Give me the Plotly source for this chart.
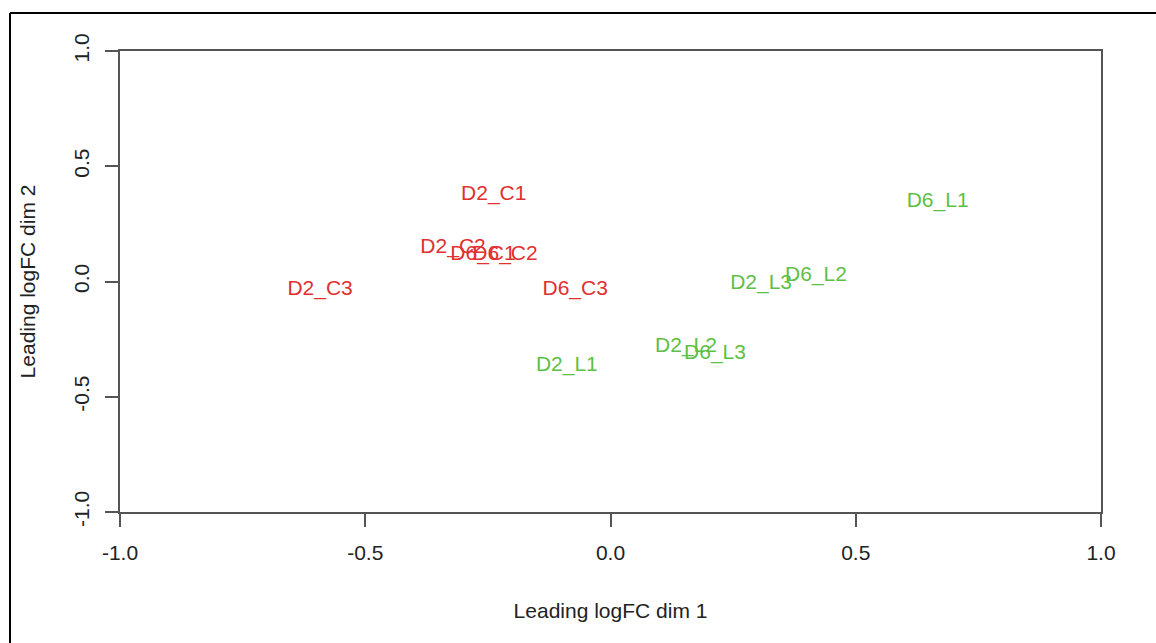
import plotly.graph_objects as go

# Sample labels and MDS coordinates (leading logFC dim 1 / dim 2)
control_labels = ["D2_C1", "D2_C2", "D6_C1", "D6_C2", "D2_C3", "D6_C3"]
control_x = [-0.238, -0.321, -0.260, -0.215, -0.592, -0.072]
control_y = [0.375, 0.145, 0.115, 0.115, -0.037, -0.037]

treated_labels = ["D2_L1", "D2_L2", "D6_L3", "D2_L3", "D6_L2", "D6_L1"]
treated_x = [-0.089, 0.154, 0.213, 0.307, 0.419, 0.667]
treated_y = [-0.367, -0.284, -0.315, -0.011, 0.024, 0.345]

tick_vals = [-1.0, -0.5, 0.0, 0.5, 1.0]
tick_text = ["-1.0", "-0.5", "0.0", "0.5", "1.0"]

RED = "#E0302F"
GREEN = "#5EBF45"
FONT = "Liberation Sans, Arial, sans-serif"

fig = go.Figure()
fig.add_trace(go.Scatter(
    x=control_x, y=control_y, text=control_labels, mode="text",
    textposition="middle center", textfont=dict(color=RED, size=21, family=FONT),
    cliponaxis=False, showlegend=False, hoverinfo="text"))
fig.add_trace(go.Scatter(
    x=treated_x, y=treated_y, text=treated_labels, mode="text",
    textposition="middle center", textfont=dict(color=GREEN, size=21, family=FONT),
    cliponaxis=False, showlegend=False, hoverinfo="text"))

axis_common = dict(
    tickmode="array", tickvals=tick_vals, ticktext=tick_text,
    showgrid=False, zeroline=False, showline=True, mirror=True,
    linecolor="#555555", linewidth=1.5,
    ticks="outside", ticklen=13, tickwidth=1.5, tickcolor="#555555",
    tickfont=dict(family=FONT, size=21, color="#222222"),
    ticklabelstandoff=8,
)

fig.update_layout(
    width=1156, height=643,
    margin=dict(l=120, r=55, t=51, b=131),
    paper_bgcolor="white", plot_bgcolor="white",
    font=dict(family=FONT, color="#222222"),
    xaxis=dict(range=[-1, 1], title=dict(text="Leading logFC dim 1",
               font=dict(family=FONT, size=21, color="#222222"), standoff=40),
               **axis_common),
    yaxis=dict(range=[-1, 1], tickangle=-90,
               title=dict(text="Leading logFC dim 2",
               font=dict(family=FONT, size=21, color="#222222"), standoff=28),
               **axis_common),
    shapes=[
        dict(type="line", xref="paper", yref="paper",
             x0=(10 - 120) / 981, x1=(10 - 120) / 981,
             y0=(512 - 13) / 461, y1=(512 - 660) / 461,
             line=dict(color="black", width=2)),
        dict(type="line", xref="paper", yref="paper",
             x0=(10 - 120) / 981, x1=(1170 - 120) / 981,
             y0=(512 - 13) / 461, y1=(512 - 13) / 461,
             line=dict(color="black", width=2)),
    ],
)

fig.write_html("out.html")
